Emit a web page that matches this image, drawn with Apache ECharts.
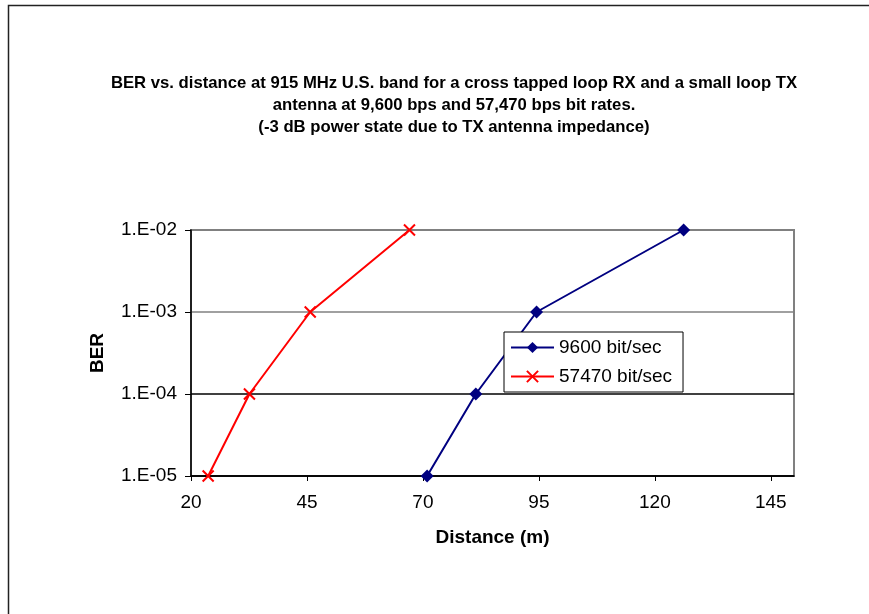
<!DOCTYPE html>
<html>
<head>
<meta charset="utf-8">
<script src="https://cdn.jsdelivr.net/npm/echarts@6/dist/echarts.min.js"></script>
<style>
html,body{margin:0;padding:0;background:#fff;}
#chart{width:869px;height:614px;}
</style>
</head>
<body>
<div id="chart"></div>
<script>
const titleText = 'BER vs. distance at 915 MHz U.S. band for a cross tapped loop RX and a small loop TX\nantenna at 9,600 bps and 57,470 bps bit rates.\n(-3 dB power state due to TX antenna impedance)';
const xName = 'Distance (m)';
const yName = 'BER';
const yTickLabels = ['1.E-05', '1.E-04', '1.E-03', '1.E-02'];
const seriesNames = ['9600 bit/sec', '57470 bit/sec'];
const dist9600 = [70.9, 81.4, 94.5, 126.2];
const ber9600 = [1e-5, 1e-4, 1e-3, 1e-2];
const dist57470 = [23.7, 32.6, 45.7, 67.1];
const ber57470 = [1e-5, 1e-4, 1e-3, 1e-2];

const chart = echarts.init(document.getElementById('chart'), null, {renderer: 'canvas'});
const font = 'Liberation Sans, Arial, sans-serif';
const pair = (xs, ys) => xs.map((x, i) => [x, ys[i]]);

chart.setOption({
  backgroundColor: '#fff',
  animation: false,
  graphic: [{
    type: 'rect', silent: true,
    shape: {x: 8.5, y: 5.5, width: 880, height: 640},
    style: {fill: 'none', stroke: '#222', lineWidth: 1.5}
  }],
  title: {
    text: titleText,
    left: 449, top: 67,
    textAlign: 'center',
    textStyle: {fontFamily: font, fontSize: 16.7, fontWeight: 'bold', color: '#000', lineHeight: 22.3}
  },
  grid: {
    left: 191, right: 75, top: 230, bottom: 138,
    show: true, borderColor: '#808080', borderWidth: 2, backgroundColor: 'transparent'
  },
  legend: {
    orient: 'vertical', left: 504, top: 332,
    backgroundColor: '#fff', borderColor: '#000', borderWidth: 1,
    padding: [6, 11, 6, 6], itemGap: 10, itemWidth: 43, itemHeight: 14,
    textStyle: {fontFamily: font, fontSize: 19, color: '#000'},
    data: seriesNames
  },
  xAxis: {
    type: 'value', min: 20, max: 150, interval: 25,
    name: xName, nameLocation: 'middle', nameGap: 52,
    nameTextStyle: {fontFamily: font, fontSize: 19, fontWeight: 'bold', color: '#000'},
    axisLine: {show: true, onZero: false, lineStyle: {color: '#000', width: 1.5}},
    axisTick: {show: true, inside: false, length: 5, lineStyle: {color: '#000'}},
    axisLabel: {fontFamily: font, fontSize: 19, color: '#000', margin: 17, showMaxLabel: false},
    splitLine: {show: false}
  },
  yAxis: {
    type: 'log', logBase: 10, min: 1e-5, max: 1e-2,
    name: yName, nameLocation: 'middle', nameGap: 84, nameRotate: 90,
    nameTextStyle: {fontFamily: font, fontSize: 19, fontWeight: 'bold', color: '#000'},
    axisLine: {show: true, onZero: false, lineStyle: {color: '#000', width: 1.5}},
    axisTick: {show: true, inside: false, length: 6, lineStyle: {color: '#000'}},
    axisLabel: {fontFamily: font, fontSize: 19, color: '#000', margin: 14,
      formatter: (v, i) => yTickLabels[i]},
    splitLine: {show: true, lineStyle: {color: ['#000', '#000', '#808080', '#808080', '#808080'], width: 1.5}},
    minorTick: {show: false}, minorSplitLine: {show: false}
  },
  series: [{
    name: seriesNames[0], type: 'line',
    data: pair(dist9600, ber9600),
    symbol: 'diamond', symbolSize: 13, z: 3,
    lineStyle: {color: '#000080', width: 2},
    itemStyle: {color: '#000080'}
  }, {
    name: seriesNames[1], type: 'line',
    data: pair(dist57470, ber57470),
    symbol: 'path://M0,0L10,10M10,0L0,10', symbolSize: 11, z: 3,
    lineStyle: {color: '#ff0000', width: 2},
    itemStyle: {color: '#ff0000', borderColor: '#ff0000', borderWidth: 2}
  }]
});
</script>
</body>
</html>
